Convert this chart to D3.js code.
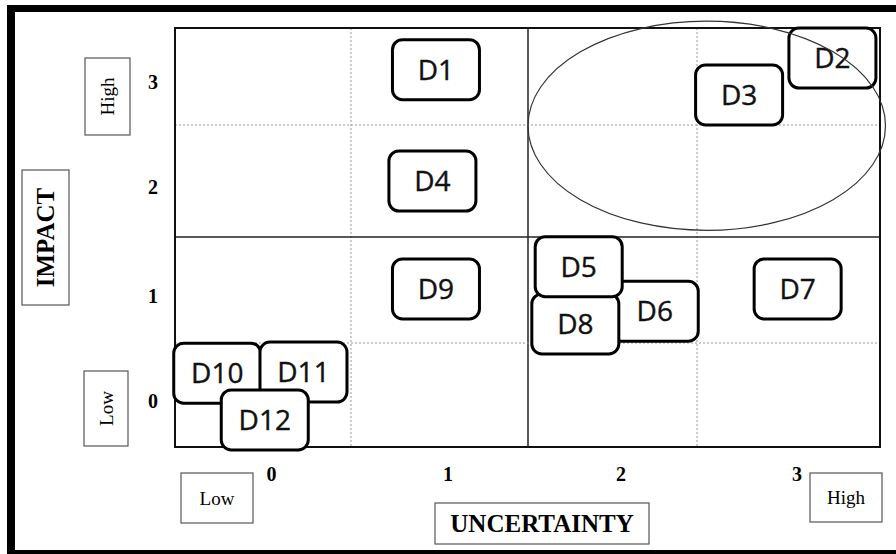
<!DOCTYPE html>
<html>
<head>
<meta charset="utf-8">
<script src="https://cdn.jsdelivr.net/npm/d3@7"></script>
<style>
  body { margin: 0; background: #fff; }
  svg { display: block; }
</style>
</head>
<body>
<div id="c1"></div>
<script>
// Data
var risks       = ["D1", "D2", "D3", "D4", "D6", "D8", "D5", "D7", "D9", "D10", "D11", "D12"];
var uncertainty = [0.98, 3.24, 2.73, 0.96, 2.25, 1.78, 1.80, 3.05, 0.98, -0.26, 0.23, 0.01];
var impact      = [3.07, 3.19, 2.81, 2.00, 0.80, 0.68, 1.22, 1.01, 1.01, 0.21, 0.22, -0.24];
var levels      = [0, 1, 2, 3];
var cellEdges   = [-0.5, 0.5, 1.5, 2.5, 3.5];
var focusX      = [1.5, 3.53];   // ellipse extent on uncertainty
var focusY      = [1.56, 3.57];  // ellipse extent on impact

var w = 896;
var h = 554;
var boxW = 87;
var boxH = 60;

var svg = d3.select("#c1").append("svg")
    .attr("width", w)
    .attr("height", h);

// scales (cells are not all the same size in the original)
var x = d3.scaleLinear().domain(cellEdges).range([175, 351, 528, 697, 880]);
var y = d3.scaleLinear().domain(cellEdges).range([447, 343, 237, 125, 28]);

// outer frame (left, top, bottom bars)
svg.append("rect").attr("x", 7).attr("y", 5).attr("width", 8).attr("height", 549).attr("fill", "#000");
svg.append("rect").attr("x", 7).attr("y", 5).attr("width", 889).attr("height", 7).attr("fill", "#000");
svg.append("rect").attr("x", 7).attr("y", 550).attr("width", 889).attr("height", 4).attr("fill", "#000");

// grid
var inner = cellEdges.slice(1, -1);
svg.selectAll("line.vgrid")
    .data(inner)
    .enter()
    .append("line")
    .attr("class", "vgrid")
    .attr("x1", function (d) { return x(d); })
    .attr("x2", function (d) { return x(d); })
    .attr("y1", y(3.5))
    .attr("y2", y(-0.5))
    .attr("stroke", function (d) { return d === 1.5 ? "#222" : "#999"; })
    .attr("stroke-width", function (d) { return d === 1.5 ? 1.5 : 1; })
    .attr("stroke-dasharray", function (d) { return d === 1.5 ? null : "2,2"; });

svg.selectAll("line.hgrid")
    .data(inner)
    .enter()
    .append("line")
    .attr("class", "hgrid")
    .attr("y1", function (d) { return y(d); })
    .attr("y2", function (d) { return y(d); })
    .attr("x1", x(-0.5))
    .attr("x2", x(3.5))
    .attr("stroke", function (d) { return d === 1.5 ? "#222" : "#999"; })
    .attr("stroke-width", function (d) { return d === 1.5 ? 1.5 : 1; })
    .attr("stroke-dasharray", function (d) { return d === 1.5 ? null : "2,2"; });

// plot frame
svg.append("rect")
    .attr("x", x(-0.5))
    .attr("y", y(3.5))
    .attr("width", x(3.5) - x(-0.5))
    .attr("height", y(-0.5) - y(3.5))
    .attr("fill", "none")
    .attr("stroke", "#111")
    .attr("stroke-width", 2);

// risk boxes
var items = risks.map(function (r, i) {
    return { name: r, u: uncertainty[i], im: impact[i] };
});

var g = svg.selectAll("g.risk")
    .data(items)
    .enter()
    .append("g")
    .attr("class", "risk")
    .attr("transform", function (d) {
        return "translate(" + x(d.u) + "," + y(d.im) + ")";
    });

g.append("rect")
    .attr("x", -boxW / 2)
    .attr("y", -boxH / 2)
    .attr("width", boxW)
    .attr("height", boxH)
    .attr("rx", 10)
    .attr("fill", "#fff")
    .attr("stroke", "#000")
    .attr("stroke-width", 3);

g.append("text")
    .attr("text-anchor", "middle")
    .attr("dy", "0.36em")
    .style("font-family", "'Open Sans', sans-serif")
    .style("font-size", "28px")
    .attr("fill", "#111")
    .attr("stroke", "#111")
    .attr("stroke-width", 0.4)
    .text(function (d) { return d.name; });

// ellipse round the high / high corner
svg.append("ellipse")
    .attr("cx", (x(focusX[0]) + x(focusX[1])) / 2)
    .attr("cy", (y(focusY[0]) + y(focusY[1])) / 2)
    .attr("rx", (x(focusX[1]) - x(focusX[0])) / 2)
    .attr("ry", (y(focusY[0]) - y(focusY[1])) / 2)
    .attr("fill", "none")
    .attr("stroke", "#333")
    .attr("stroke-width", 1.2);

// tick labels
var xAxis = svg.append("g")
    .attr("transform", "translate(8," + 464 + ")")
    .call(d3.axisBottom(x).tickValues(levels).tickSize(0).tickFormat(d3.format("d")));
xAxis.select(".domain").remove();
xAxis.selectAll("text")
    .style("font-family", "'Liberation Serif', serif")
    .style("font-weight", "bold")
    .style("font-size", "20px")
    .attr("fill", "#000");

var yAxis = svg.append("g")
    .attr("transform", "translate(153,6)")
    .call(d3.axisLeft(y).tickValues(levels).tickSize(0).tickFormat(d3.format("d")));
yAxis.select(".domain").remove();
yAxis.selectAll("text")
    .attr("x", 0)
    .attr("text-anchor", "middle")
    .style("font-family", "'Liberation Serif', serif")
    .style("font-weight", "bold")
    .style("font-size", "20px")
    .attr("fill", "#000");

// boxed labels
function boxLabel(cx, cy, bw, bh, label, rotate, size, bold) {
    var lg = svg.append("g").attr("transform", "translate(" + cx + "," + cy + ")");
    lg.append("rect")
        .attr("x", -bw / 2)
        .attr("y", -bh / 2)
        .attr("width", bw)
        .attr("height", bh)
        .attr("fill", "#fff")
        .attr("stroke", "#555")
        .attr("stroke-width", 1.2);
    lg.append("text")
        .attr("transform", rotate ? "rotate(-90)" : null)
        .attr("text-anchor", "middle")
        .attr("dy", "0.35em")
        .style("font-family", "'Liberation Serif', serif")
        .style("font-weight", bold ? "bold" : "normal")
        .style("font-size", size + "px")
        .attr("fill", "#000")
        .text(label);
}

boxLabel(45.5, 237.5, 47, 135, "IMPACT", true, 25, true);
boxLabel(107.5, 96.5, 45, 77, "High", true, 19, false);
boxLabel(106, 408.5, 44, 75, "Low", true, 19, false);
boxLabel(217, 498, 72, 50, "Low", false, 19, false);
boxLabel(542, 523.5, 214, 41, "UNCERTAINTY", false, 25, true);
boxLabel(846, 497.5, 72, 49, "High", false, 19, false);
</script>
</body>
</html>
